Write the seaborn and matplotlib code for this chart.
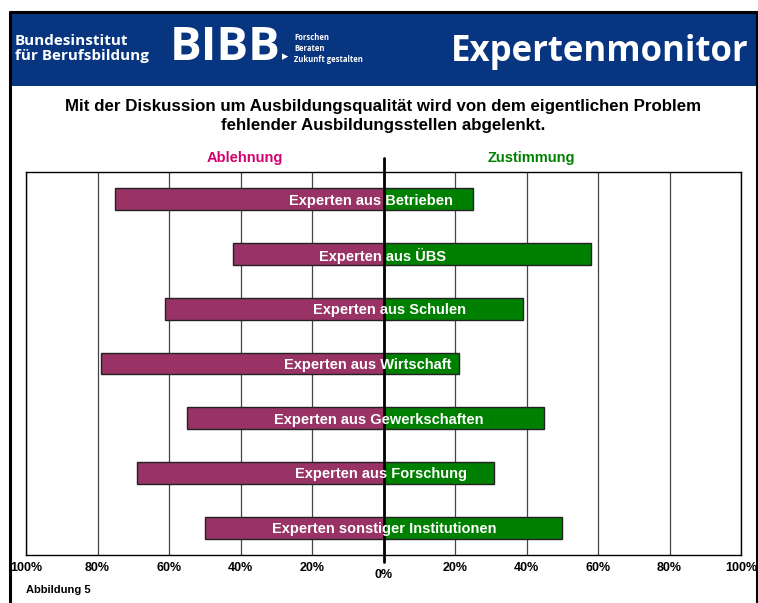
import numpy as np
import pandas as pd
import matplotlib
matplotlib.use('Agg')
import matplotlib.pyplot as plt
import seaborn as sns
from matplotlib.patches import Rectangle
from matplotlib.lines import Line2D

# =============================================================================
# DATEN
# =============================================================================
kategorien = ['Experten aus Betrieben', 'Experten aus ÜBS', 'Experten aus Schulen',
              'Experten aus Wirtschaft', 'Experten aus Gewerkschaften',
              'Experten aus Forschung', 'Experten sonstiger Institutionen']
ablehnung = [75, 42, 61, 79, 55, 69, 50]
zustimmung = [25, 58, 39, 21, 45, 31, 50]
tick_werte = [-100, -80, -60, -40, -20, 0, 20, 40, 60, 80, 100]
tick_labels = ['100%', '80%', '60%', '40%', '20%', '0%', '20%', '40%', '60%', '80%', '100%']

titel = ('Mit der Diskussion um Ausbildungsqualität wird von dem eigentlichen Problem\n'
         'fehlender Ausbildungsstellen abgelenkt.')

FARBE_ABL = '#993366'
FARBE_ZUS = '#008000'
BLAU = '#07357f'

# horizontale Verschiebung der Balkentexte (wie im Original leicht versetzt)
text_versatz = [-3.4, -0.3, 1.7, -4.5, -1.4, -0.6, 0.3]

sns.set_style('white')
plt.rcParams['font.family'] = ['Liberation Sans', 'DejaVu Sans']
plt.rcParams['text.color'] = 'black'

W, H = 758, 603
fig = plt.figure(figsize=(W / 100, H / 100), dpi=100)

# Hilfsfunktion: Pixel -> Figurkoordinaten
def fx(px):
    return px / W

def fy(py):
    return 1 - py / H

# Rahmen (links, oben, rechts) und Banner
for xs, ys in [([10, 10], [12, 603]), ([10, 757], [12, 12]), ([757, 757], [12, 603])]:
    fig.add_artist(Line2D([fx(v) for v in xs], [fy(v) for v in ys], color='black', lw=2.2,
                          transform=fig.transFigure))
fig.patches.append(Rectangle((fx(11), fy(86)), fx(745), fy(14) - fy(86),
                             transform=fig.transFigure, facecolor=BLAU, edgecolor='none'))

fig.text(fx(15), fy(41), 'Bundesinstitut', color='white', fontsize=11, fontweight='bold',
         family=['Open Sans', 'DejaVu Sans'], va='center', ha='left')
fig.text(fx(15), fy(56), 'für Berufsbildung', color='white', fontsize=11, fontweight='bold',
         family=['Open Sans', 'DejaVu Sans'], va='center', ha='left')
fig.text(fx(170), fy(48), 'BIBB', color='white', fontsize=34, fontweight='bold',
         family=['Open Sans', 'DejaVu Sans'], va='center', ha='left')
fig.text(fx(282), fy(57), '▸', color='white', fontsize=9,
         family=['DejaVu Sans'], va='center', ha='left')
for i, zeile in enumerate(['Forschen', 'Beraten', 'Zukunft gestalten']):
    fig.text(fx(294), fy(38 + i * 10.5), zeile, color='white', fontsize=5.5, fontweight='bold',
             family=['Open Sans', 'DejaVu Sans'], va='center', ha='left')
fig.text(fx(748), fy(52), 'Expertenmonitor', color='white', fontsize=25, fontweight='bold',
         family=['Open Sans', 'DejaVu Sans'], va='center', ha='right')

# Titel
fig.text(fx(383), fy(116), titel, ha='center', va='center', fontsize=12.2,
         fontweight='bold', linespacing=1.3)
fig.text(fx(245), fy(158), 'Ablehnung', ha='center', va='center', fontsize=10.5,
         fontweight='bold', color='#d4006e')
fig.text(fx(531), fy(158), 'Zustimmung', ha='center', va='center', fontsize=10.5,
         fontweight='bold', color=FARBE_ZUS)

# =============================================================================
# DIAGRAMM
# =============================================================================
ax = fig.add_axes([fx(26), fy(555), fx(741) - fx(26), fy(172) - fy(555)])

df = pd.DataFrame({'Kategorie': kategorien,
                   'Ablehnung': [-v for v in ablehnung],
                   'Zustimmung': zustimmung})

sns.barplot(data=df, x='Ablehnung', y='Kategorie', color=FARBE_ABL, saturation=1,
            width=0.4, edgecolor='#222222', linewidth=1, ax=ax, zorder=3)
sns.barplot(data=df, x='Zustimmung', y='Kategorie', color=FARBE_ZUS, saturation=1,
            width=0.4, edgecolor='#222222', linewidth=1, ax=ax, zorder=3)

ax.set_xlim(-100, 100)
ax.set_ylim(6.5, -0.5)
ax.set_xticks(tick_werte)
ax.set_xticklabels([])
ax.set_yticks([])
ax.set_xlabel('')
ax.set_ylabel('')
ax.tick_params(length=0)
for x in tick_werte:
    ax.axvline(x, color='#444444', lw=0.9, zorder=1)
for s in ax.spines.values():
    s.set_visible(True)
    s.set_color('black')
    s.set_linewidth(1)

# Nulllinie, ragt über die Achse hinaus
ax.plot([0, 0], [-0.76, 6.63], color='black', lw=2, clip_on=False, zorder=5)

# Balkenbeschriftung
for i, (name, dx) in enumerate(zip(kategorien, text_versatz)):
    ax.text(dx, i, name, ha='center', va='center_baseline', color='white', fontsize=10.5,
            fontweight='bold', zorder=6)

# Achsenbeschriftung (0% etwas tiefer)
trans = ax.get_xaxis_transform()
for x, lab in zip(tick_werte, tick_labels):
    y = -0.052 if x == 0 else -0.034
    ax.text(x, y, lab, transform=trans, ha='center', va='center', fontsize=9,
            fontweight='bold', clip_on=False)

fig.text(fx(26), fy(590), 'Abbildung 5', ha='left', va='center', fontsize=8, fontweight='bold')

plt.savefig('out.png', dpi=100)
plt.close()
